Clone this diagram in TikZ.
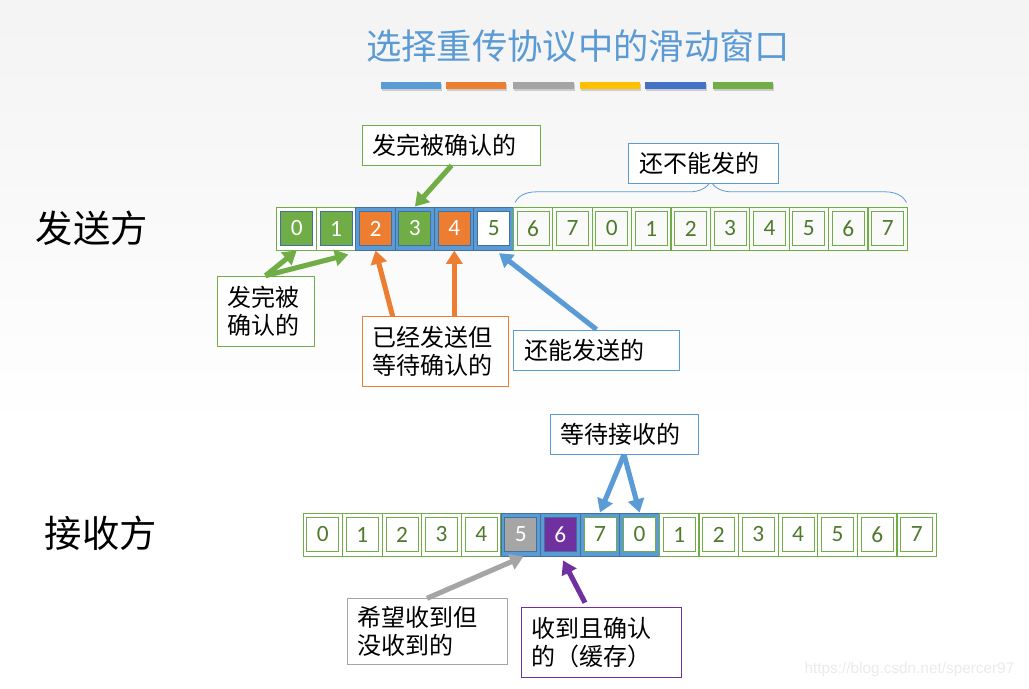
\documentclass[tikz,border=0pt]{standalone}
\usepackage{fontspec}
\setmainfont{Carlito}
\newfontfamily\cjk{Noto Sans CJK SC}
\newfontfamily\wmfont{Liberation Sans}
\usepackage{tikz}
\usetikzlibrary{arrows.meta}
\usetikzlibrary{decorations.pathreplacing}
\usetikzlibrary{calc}
\definecolor{grn}{HTML}{70AD47}
\definecolor{dgrn}{HTML}{4F7A2C}
\definecolor{blu}{HTML}{5B9BD5}
\definecolor{bdk}{HTML}{41719C}
\definecolor{org}{HTML}{ED7D31}
\definecolor{gry}{HTML}{A5A5A5}
\definecolor{pur}{HTML}{7030A0}
\definecolor{ylw}{HTML}{FFC000}
\definecolor{nvy}{HTML}{4472C4}
\tikzset{
cellbox/.style = {minimum width=29.6pt, minimum height=32.25pt,
                  inner sep=0pt, line width=0.75pt},
cellg/.style = {cellbox, draw=grn},
cellw/.style = {cellbox, draw=grn, fill=white},
cellb/.style = {cellbox, draw=bdk, fill=blu},
inbox/.style = {minimum width=24pt, minimum height=25.5pt, inner sep=0pt,
                line width=0.75pt, font=\fontsize{17.5}{17.5}\selectfont},
ing/.style = {inbox, draw=grn, text=dgrn},
inwg/.style = {inbox, draw=grn, fill=white, text=dgrn},
inw/.style = {inbox, draw=bdk, fill=white, text=dgrn},
infill/.style = {inbox, draw=bdk, fill=#1, text=white},
lbl/.style = {draw=#1, fill=white, line width=0.75pt, inner xsep=8pt,
              inner ysep=0pt, align=left, font=\cjk\fontsize{18}{21}\selectfont},
arr/.style = {draw=#1, line width=3.8pt, -{Triangle[width=12pt,length=10pt]}},
side/.style = {font=\cjk\fontsize{28}{28}\selectfont}
}
% one sequence slot: outer box and inner numbered box
\newcommand{\seqbox}[5]{\node[#3] (#1) at (#2) {}; \node[#4] (#1in) at (#2) {#5};}

\begin{document}
\begin{tikzpicture}[x=0.75pt, y=-0.75pt]
        \useasboundingbox (0,0) rectangle (1029,689);
        \fill[white] (0,0) rectangle (1029,689);
        \shade[top color=gray!9, bottom color=white] (0,0) rectangle (1029,430);

        % title and colour bars
        \node[font=\cjk\fontsize{26.5}{26.5}\selectfont, text=blu] (title) at (578,46) {选择重传协议中的滑动窗口};
        \fill[black!20] (382,84) rectangle (442,91);
        \fill[black!20] (447,84) rectangle (507,91);
        \fill[black!20] (514,84) rectangle (575,91);
        \fill[black!20] (581,84) rectangle (641,91);
        \fill[black!20] (646,84) rectangle (707,91);
        \fill[black!20] (714,84) rectangle (774,91);
        \fill[blu] (381,82) rectangle (441,89);
        \fill[org] (446,82) rectangle (506,89);
        \fill[gry] (513,82) rectangle (574,89);
        \fill[ylw] (580,82) rectangle (640,89);
        \fill[nvy] (645,82) rectangle (706,89);
        \fill[grn] (713,82) rectangle (773,89);

        % sender
        \node[side] (snd) at (92,228) {发送方};
        \seqbox{s0}{296.7,228.5}{cellw}{infill=grn}{0}
        \seqbox{s1}{336.1,228.5}{cellw}{infill=grn}{1}
        \seqbox{s2}{375.5,228.5}{cellb}{infill=org}{2}
        \seqbox{s3}{414.9,228.5}{cellb}{infill=grn}{3}
        \seqbox{s4}{454.3,228.5}{cellb}{infill=org}{4}
        \seqbox{s5}{493.7,228.5}{cellb}{inw}{5}
        \seqbox{s6}{533.1,228.5}{cellg}{ing}{6}
        \seqbox{s7}{572.5,228.5}{cellg}{ing}{7}
        \seqbox{s8}{611.9,228.5}{cellg}{ing}{0}
        \seqbox{s9}{651.3,228.5}{cellg}{ing}{1}
        \seqbox{s10}{690.7,228.5}{cellg}{ing}{2}
        \seqbox{s11}{730.1,228.5}{cellg}{ing}{3}
        \seqbox{s12}{769.5,228.5}{cellg}{ing}{4}
        \seqbox{s13}{808.9,228.5}{cellg}{ing}{5}
        \seqbox{s14}{848.3,228.5}{cellg}{ing}{6}
        \seqbox{s15}{887.7,228.5}{cellg}{ing}{7}

        \draw[blu, line width=0.6pt, decorate, decoration={brace, amplitude=16pt}]
            ([xshift=1.5pt,yshift=3pt]s6.north west) -- ([xshift=-1pt,yshift=3pt]s15.north east);

        \node[lbl=blu, text width=96pt, minimum height=30pt] (notyet) at (703.5,163) {还不能发的};
        \node[lbl=grn, text width=118pt, minimum height=30pt] (acktop) at (451.5,145) {发完被确认的};
        \node[lbl=grn, text width=56.75pt, minimum height=53pt] (ackbot) at (265.5,311.5) {发完被\\确认的};
        \node[lbl=org, text width=94pt, minimum height=52pt] (sent) at (435.5,351.5) {已经发送但\\等待确认的};
        \node[lbl=blu, text width=108pt, minimum height=30pt] (cansend) at (596.5,350) {还能发送的};

        \draw[arr=grn] (acktop.south) -- (s3.north);
        \draw[arr=grn] (ackbot.north) -- (s0.south);
        \draw[arr=grn] (ackbot.north) -- ([xshift=-6pt,yshift=-3pt]s1.south east);
        \draw[arr=org] ($(sent.north west)!0.21!(sent.north east)$) -- (s2.south);
        \draw[arr=org] (sent.north -| s4.south) -- (s4.south);
        \draw[arr=blu] (cansend.north) -- ([xshift=4pt,yshift=-2pt]s5.south);

        % receiver
        \node[side] (rcv) at (101,533) {接收方};
        \seqbox{r0}{322.8,534.5}{cellg}{ing}{0}
        \seqbox{r1}{362.4,534.5}{cellg}{ing}{1}
        \seqbox{r2}{402,534.5}{cellg}{ing}{2}
        \seqbox{r3}{441.6,534.5}{cellg}{ing}{3}
        \seqbox{r4}{481.2,534.5}{cellg}{ing}{4}
        \seqbox{r5}{520.8,534.5}{cellb}{infill=gry}{5}
        \seqbox{r6}{560.4,534.5}{cellb}{infill=pur}{6}
        \seqbox{r7}{600,534.5}{cellb}{inwg}{7}
        \seqbox{r8}{639.6,534.5}{cellb}{inwg}{0}
        \seqbox{r9}{679.2,534.5}{cellg}{ing}{1}
        \seqbox{r10}{718.8,534.5}{cellg}{ing}{2}
        \seqbox{r11}{758.4,534.5}{cellg}{ing}{3}
        \seqbox{r12}{798,534.5}{cellg}{ing}{4}
        \seqbox{r13}{837.6,534.5}{cellg}{ing}{5}
        \seqbox{r14}{877.2,534.5}{cellg}{ing}{6}
        \seqbox{r15}{916.8,534.5}{cellg}{ing}{7}

        \node[lbl=blu, text width=95pt, minimum height=30pt] (waitrcv) at (624,434) {等待接收的};
        \node[lbl=gry, text width=104pt, minimum height=49pt] (wanted) at (427,631.5) {希望收到但\\没收到的};
        \node[lbl=pur, text width=104pt, minimum height=53pt] (buffered) at (601,642.5) {收到且确认\\的（缓存）};

        \draw[arr=blu] (waitrcv.south) -- (r7.north);
        \draw[arr=blu] (waitrcv.south) -- (r8.north);
        \draw[arr=gry] (wanted.north) -- ([xshift=2pt]r5.south);
        \draw[arr=pur] ($(buffered.north)+(-16,-4)$) -- ([xshift=2pt,yshift=-3pt]r6.south);

        \node[font=\wmfont\fontsize{11.5}{11.5}\selectfont, text=black!8, anchor=east] (wm) at (1019,670) {https://blog.csdn.net/spercer97};
        \end{tikzpicture}
\end{document}
